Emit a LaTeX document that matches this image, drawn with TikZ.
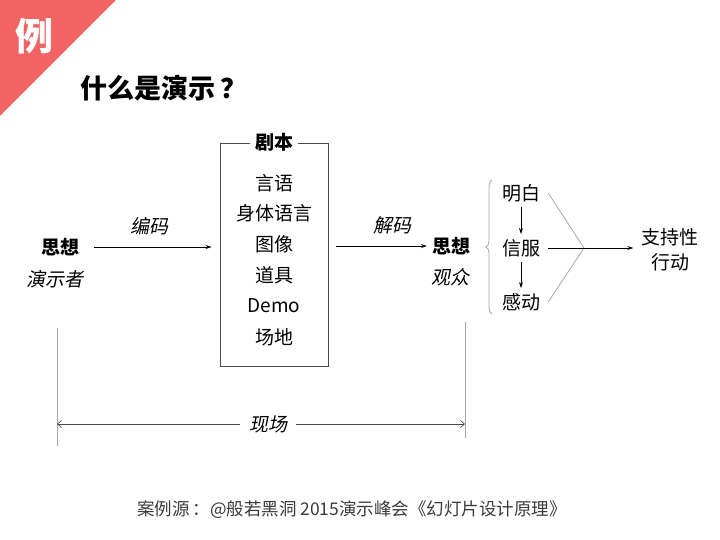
\documentclass[tikz,border=0pt]{standalone}
\usepackage{fontspec}
\setmainfont{Noto Sans CJK SC}
\newfontfamily\cjkslant[FakeSlant=0.2]{Noto Sans CJK SC}
\usepackage{xcolor}
\usetikzlibrary{arrows.meta,decorations.pathreplacing}

\definecolor{bannerred}{HTML}{F26464}
\definecolor{guidegray}{HTML}{A8A8A8}
\definecolor{boxgray}{HTML}{4A4A4A}
\definecolor{notegray}{HTML}{3A3A3A}

\tikzset{
  txt/.style={inner sep=0pt, align=center, font=\fontsize{19}{25}\selectfont},
  heavy/.style={inner sep=0pt, font=\fontsize{19}{25}\selectfont\bfseries},
  slant/.style={inner sep=0pt, font=\fontsize{19}{25}\selectfont\cjkslant},
  flow/.style={-{Stealth[length=6pt,width=4pt]}, line width=0.7pt},
  guide/.style={guidegray, line width=0.8pt},
}

\begin{document}
\begin{tikzpicture}[x=1pt,y=-1pt]
  \useasboundingbox (0,0) rectangle (720,540);

  % ---- Corner banner and title ----
  \fill[bannerred] (0,0) -- (116,0) -- (0,116) -- cycle;
  \node[inner sep=0pt, white, font=\fontsize{38}{40}\selectfont\bfseries] (badge) at (35,36) {例};
  \node[inner sep=0pt, font=\fontsize{27}{30}\selectfont\bfseries] (title) at (164,88) {什么是演示\,？};

  % ---- Presenter ----
  \node[heavy] (sender) at (60,247) {思想};
  \node[slant] (presenter) at (55,279) {演示者};

  % ---- Script box ----
  \node[draw=boxgray, line width=0.9pt, minimum width=108pt, minimum height=223pt, inner sep=0pt] (script) at (274,254.5) {};
  \node[heavy, fill=white, inner xsep=5pt, inner ysep=2pt] (scripttitle) at (script.north) {剧本};
  \node[txt] (speech) at (274,183) {言语};
  \node[txt] (body) at (274,213) {身体语言};
  \node[txt] (image) at (274,244) {图像};
  \node[txt] (props) at (274,275) {道具};
  \node[txt] (demo) at (274,306) {Demo};
  \node[txt] (venue) at (274,337) {场地};

  \draw[flow, shorten <=15pt, shorten >=8pt] (sender.east) -- (script.west |- sender)
    node[slant, midway, above=12pt] (encode) {编码};

  % ---- Audience ----
  \node[heavy] (receiver) at (451,246) {思想};
  \node[slant] (audience) at (450,277) {观众};

  \draw[flow, shorten <=8pt, shorten >=5pt] (script.east |- receiver) -- (receiver.west)
    node[slant, pos=0.62, above=12pt] (decode) {解码};

  % ---- Effects ----
  \draw[guide, decorate, decoration={brace, amplitude=6pt, mirror}] (492,180) -- (492,314);
  \node[txt] (understand) at (521,193) {明白};
  \node[txt] (convince) at (521,248) {信服};
  \node[txt] (move) at (521,302) {感动};
  \node[txt] (action) at (670,250) {支持性\\行动};
  \coordinate (meet) at (584,248);

  \draw[flow, shorten <=5pt, shorten >=5pt] (understand.south) -- (convince.north);
  \draw[flow, shorten <=5pt, shorten >=5pt] (convince.south) -- (move.north);
  \draw[guide] ([xshift=8pt]understand.east) -- (meet) -- ([xshift=8pt]move.east);
  \draw[flow, shorten <=8pt, shorten >=8pt] (convince.east) -- (action.west |- convince);

  % ---- On site ----
  \coordinate (leftTop) at (57,328);
  \coordinate (leftBot) at (57,446);
  \coordinate (rightTop) at (465,322);
  \coordinate (rightBot) at (465,438);
  \draw[guide] (leftTop) -- (leftBot);
  \draw[guide] (rightTop) -- (rightBot);
  \node[slant] (site) at (268,424) {现场};
  \draw[boxgray, line width=0.7pt, -{Straight Barb[length=4pt,width=7pt]}]
    ([xshift=-9pt]site.west) -- (leftTop |- site);
  \draw[boxgray, line width=0.7pt, -{Straight Barb[length=4pt,width=7pt]}]
    ([xshift=9pt]site.east) -- (rightTop |- site);

  % ---- Source ----
  \node[inner sep=0pt, notegray, font=\fontsize{17.5}{20}\selectfont] (source) at (352,510)
    {案例源\,：@般若黑洞 2015演示峰会《幻灯片设计原理》};
\end{tikzpicture}
\end{document}
